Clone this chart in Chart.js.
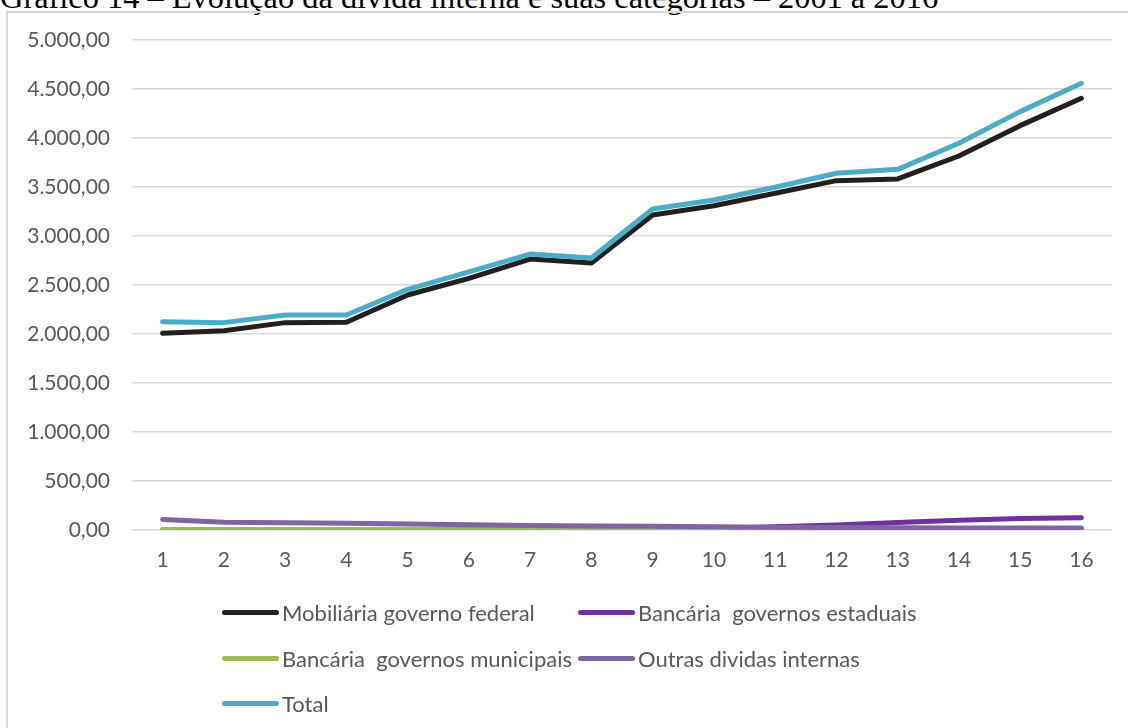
<!DOCTYPE html>
<html>
<head>
<meta charset="utf-8">
<script src="https://cdn.jsdelivr.net/npm/chart.js@4.4.0/dist/chart.umd.min.js"></script>
<style>
  body { margin: 0; background: #fff; width: 1128px; height: 728px; overflow: hidden; position: relative; }
  #titulo { position: absolute; left: 0; top: -19px; font-family: "Liberation Serif", serif; font-size: 32.4px; line-height: 1; white-space: nowrap; color: #000; }
  #moldura { position: absolute; left: 6px; top: 11px; width: 1140px; height: 740px; border: 2px solid #d9d9d9; box-sizing: border-box; }
  #grafico { position: absolute; left: 0; top: 0; width: 1128px; height: 728px; }
  #legenda { position: absolute; left: 222px; top: 590px; display: grid; grid-template-columns: 356px 356px; grid-auto-rows: 45.5px;
             font-family: Lato, sans-serif; font-size: 22px; color: #595959; }
  .item { display: flex; align-items: center; white-space: nowrap; }
  .amostra { display: inline-block; width: 57px; height: 5px; border-radius: 3px; margin-right: 3px; }
</style>
</head>
<body>
<div id="titulo">Gráfico 14 – Evolução da dívida interna e suas categorias – 2001 a 2016</div>
<div id="moldura"></div>
<div id="grafico"><canvas id="divida"></canvas></div>
<div id="legenda"></div>
<script>
const anos = ['1', '2', '3', '4', '5', '6', '7', '8', '9', '10', '11', '12', '13', '14', '15', '16'];
const mobiliariaFederal = [2007, 2034, 2116, 2119, 2398, 2568, 2765, 2724, 3214, 3309, 3436, 3565, 3582, 3816, 4126, 4405];
const bancariaEstaduais = [3, 3, 3, 3, 3, 3, 3, 3, 5, 15, 32, 52, 76, 100, 117, 124];
const bancariaMunicipais = [4, 4, 4, 4, 4, 3, 3, 3, 3, 3, 3, 3, 3, 3, 3, 3];
const outrasDividas = [108, 80, 75, 68, 60, 53, 47, 42, 37, 33, 28, 25, 22, 21, 20, 20];
const total = [2126, 2116, 2194, 2194, 2456, 2633, 2816, 2776, 3276, 3367, 3497, 3640, 3680, 3946, 4269, 4558];
const ticksY = [0, 500, 1000, 1500, 2000, 2500, 3000, 3500, 4000, 4500, 5000];

function formataBR(v) {
    const partes = v.toFixed(2).split('.');
    partes[0] = partes[0].replace(/\B(?=(\d{3})+(?!\d))/g, '.');
    return partes[0] + ',' + partes[1];
}

// ordem: a última série fica por cima, como no Excel
function serie(nome, dados, cor, ordem) {
    return {
        label: nome,
        data: dados,
        borderColor: cor,
        backgroundColor: cor,
        borderWidth: 5,
        pointRadius: 0,
        borderCapStyle: 'round',
        borderJoinStyle: 'round',
        tension: 0,
        order: ordem
    };
}

const series = [
    serie('Mobiliária governo federal', mobiliariaFederal, '#231f20', 4),
    serie('Bancária  governos estaduais', bancariaEstaduais, '#7030a0', 3),
    serie('Bancária  governos municipais', bancariaMunicipais, '#9bbb59', 2),
    serie('Outras dividas internas', outrasDividas, '#8064a2', 1),
    serie('Total', total, '#4bacc6', 0)
];

const fonteEixo = { family: 'Lato, sans-serif', size: 21 };

new Chart(document.getElementById('divida'), {
    type: 'line',
    data: { labels: anos, datasets: series },
    options: {
        responsive: true,
        maintainAspectRatio: false,
        animation: false,
        layout: { padding: { left: 0, top: 40, right: 16, bottom: 153 } },
        plugins: { legend: { display: false }, tooltip: { enabled: false } },
        scales: {
            x: {
                offset: true,
                grid: { display: false, drawTicks: false },
                border: { display: false },
                ticks: { color: '#595959', font: fonteEixo, padding: 18, maxRotation: 0 },
                afterFit: function (s) { s.height = 45; }
            },
            y: {
                min: 0,
                max: 5000,
                afterBuildTicks: function (s) { s.ticks = ticksY.map(v => ({ value: v })); },
                grid: { color: '#d9d9d9', lineWidth: 1.5, drawTicks: false },
                border: { display: false },
                ticks: { color: '#595959', font: fonteEixo, padding: 22, callback: v => formataBR(v) },
                afterFit: function (s) { s.width = 132; }
            }
        }
    }
});

// legenda em duas colunas, como no original
const legenda = document.getElementById('legenda');
series.forEach(function (ds) {
    const item = document.createElement('div');
    item.className = 'item';
    const amostra = document.createElement('span');
    amostra.className = 'amostra';
    amostra.style.background = ds.borderColor;
    const texto = document.createElement('span');
    texto.textContent = ds.label;
    texto.style.whiteSpace = 'pre';
    item.appendChild(amostra);
    item.appendChild(texto);
    legenda.appendChild(item);
});
</script>
</body>
</html>
